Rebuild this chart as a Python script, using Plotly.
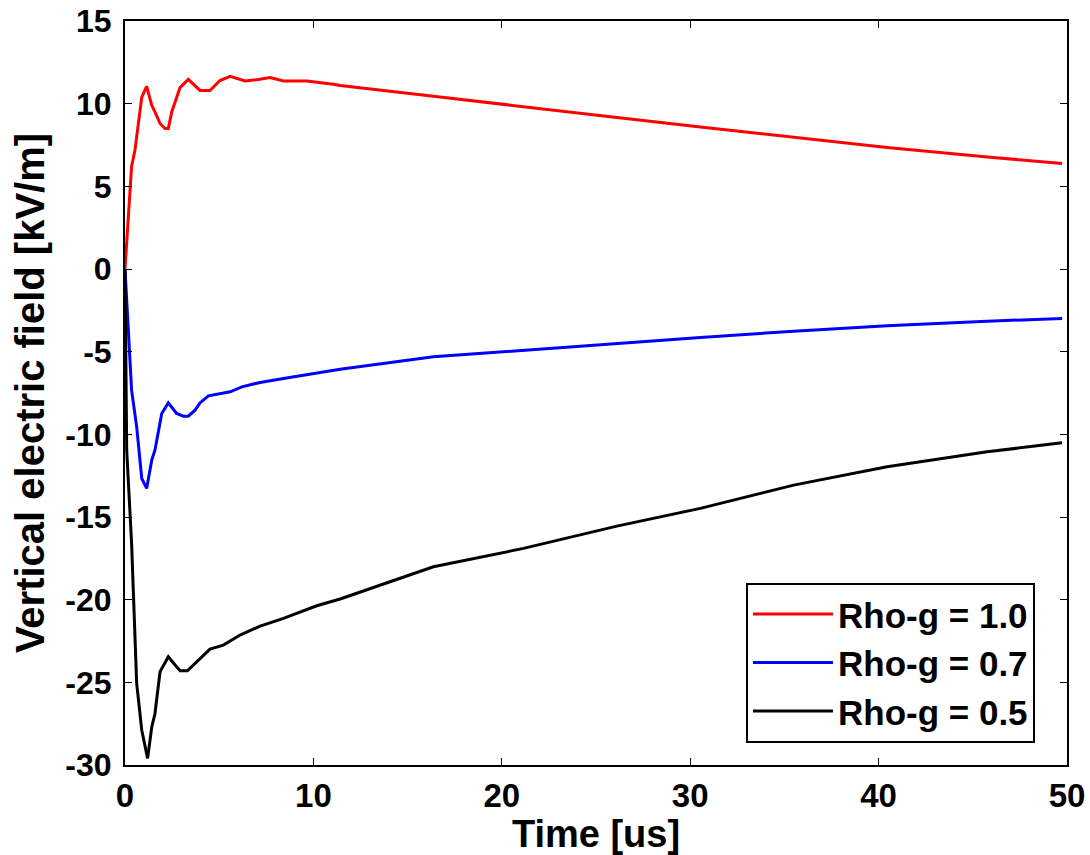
import plotly.graph_objects as go

# Time [us] and field [kV/m]
t_rho10 = [0, 0.35, 0.53, 0.89, 1.15, 1.42, 1.59, 1.86, 2.12, 2.30, 2.48, 2.92, 3.36, 3.98,
           4.51, 5.04, 5.58, 6.37, 6.99, 7.70, 8.41, 9.65, 11.06, 11.42, 16.37, 21.15,
           26.11, 30.54, 35.49, 40.45, 45.76, 49.74]
e_rho10 = [0, 6.2, 7.2, 10.4, 11.05, 9.9, 9.5, 8.8, 8.5, 8.5, 9.5, 10.97, 11.47, 10.8,
           10.8, 11.4, 11.65, 11.37, 11.45, 11.58, 11.37, 11.37, 11.17, 11.1, 10.45, 9.80,
           9.16, 8.59, 7.95, 7.35, 6.78, 6.38]

t_rho07 = [0, 0.35, 0.62, 0.89, 1.15, 1.42, 1.59, 1.95, 2.30, 2.74, 3.10, 3.36, 3.72, 3.98,
           4.43, 4.87, 5.58, 6.20, 7.17, 8.41, 10.18, 11.42, 16.37, 21.15, 26.11, 30.54,
           35.49, 40.45, 45.76, 49.74]
e_rho07 = [0, -7.33, -9.55, -12.67, -13.27, -11.56, -10.95, -8.74, -8.1, -8.74, -8.9, -8.9,
           -8.54, -8.1, -7.67, -7.57, -7.43, -7.13, -6.86, -6.62, -6.28, -6.06, -5.31, -4.91,
           -4.50, -4.14, -3.76, -3.44, -3.16, -2.99]

t_rho05 = [0, 0.09, 0.35, 0.62, 0.89, 1.2, 1.42, 1.59, 1.86, 2.30, 2.66, 2.92, 3.31, 3.81,
           4.51, 5.22, 6.11, 7.17, 8.41, 10.18, 11.42, 16.37, 21.15, 26.11, 30.54, 35.49,
           40.45, 45.76, 49.74]
e_rho05 = [0, -10.95, -16.6, -25.06, -27.9, -29.6, -27.7, -26.9, -24.36, -23.45, -23.95,
           -24.3, -24.3, -23.75, -22.99, -22.75, -22.14, -21.6, -21.13, -20.37, -19.96,
           -18.01, -16.90, -15.55, -14.48, -13.07, -11.96, -11.06, -10.51]

series_names = ["Rho-g = 1.0", "Rho-g = 0.7", "Rho-g = 0.5"]
series_colors = ["#ff0000", "#0000ff", "#000000"]
x_ticks = [0, 10, 20, 30, 40, 50]
y_ticks = [-30, -25, -20, -15, -10, -5, 0, 5, 10, 15]

FONT = "Liberation Sans, Arial, sans-serif"

fig = go.Figure()
for t, e, name, col in zip([t_rho10, t_rho07, t_rho05], [e_rho10, e_rho07, e_rho05],
                           series_names, series_colors):
    fig.add_trace(go.Scatter(x=t, y=e, mode="lines", name=name,
                             line=dict(color=col, width=3)))

axis_common = dict(
    showline=True, linecolor="black", linewidth=2, mirror="ticks",
    ticks="inside", ticklen=7, tickwidth=1, tickcolor="black",
    showgrid=False, zeroline=False, automargin=False, ticklabeloverflow="allow",
)

fig.update_layout(
    width=1090, height=855,
    margin=dict(l=125, r=23, t=21, b=90),
    paper_bgcolor="white", plot_bgcolor="white",
    font=dict(family=FONT, color="black", weight="bold"),
    xaxis=dict(range=[0, 50], tickvals=x_ticks, ticktext=[str(v) for v in x_ticks],
               tickfont=dict(family=FONT, size=33, color="black", weight="bold"),
               title=dict(text="Time [us]", font=dict(family=FONT, size=38, weight="bold"),
                          standoff=0),
               **axis_common),
    yaxis=dict(range=[-30, 15], tickvals=y_ticks, ticktext=[str(v) for v in y_ticks],
               ticklabelstandoff=5,
               tickfont=dict(family=FONT, size=32, color="black", weight="bold"),
               title=dict(text="Vertical electric field [kV/m]",
                          font=dict(family=FONT, size=40, weight="bold"), standoff=8),
               **axis_common),
    legend=dict(x=0.966, y=0.03, xanchor="right", yanchor="bottom",
                bgcolor="white", bordercolor="black", borderwidth=2,
                font=dict(family=FONT, size=35, color="black", weight="bold"),
                itemwidth=80, tracegroupgap=0),
    showlegend=True,
)

# remove the browser's default 8px body margin so the figure fills the window
fig.write_html("out.html", config={"displayModeBar": False},
               post_script="document.body.style.margin='0';")
